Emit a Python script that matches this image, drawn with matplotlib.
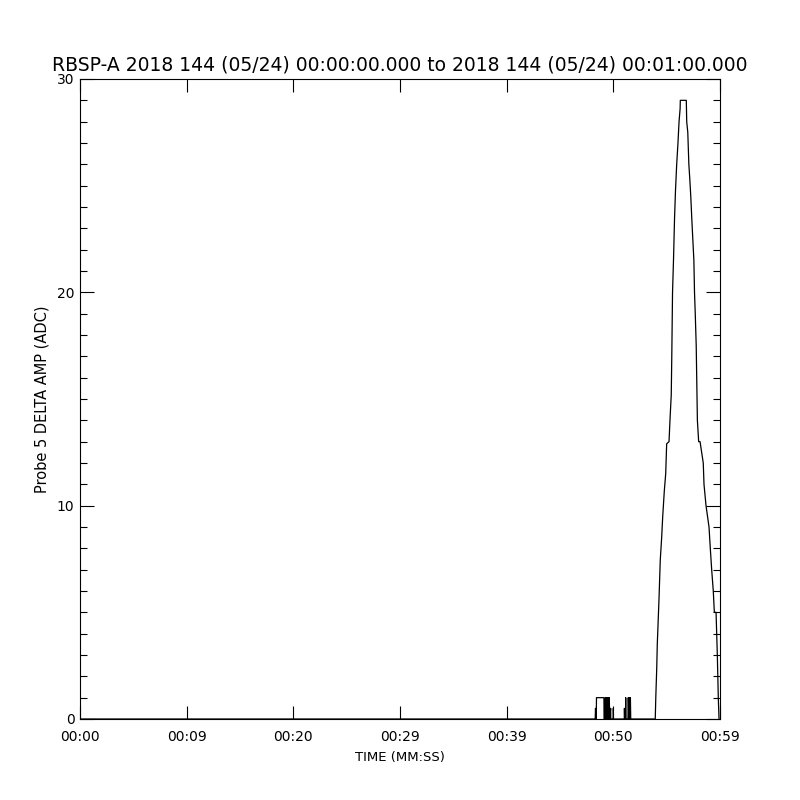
import numpy as np
import matplotlib
matplotlib.use('Agg')
import matplotlib.pyplot as plt
from matplotlib.ticker import MultipleLocator

# time in seconds after 00:00:00, value in ADC counts
burst_t = [0.0, 48.30, 48.33, 48.36, 48.40, 48.42, 49.12, 49.13, 49.22, 49.25, 49.28,
           49.36, 49.38, 49.40, 49.47, 49.49, 49.52, 49.55, 49.58, 49.62, 49.66,
           49.75, 49.76, 50.00, 50.00, 50.01, 51.03, 51.04, 51.06, 51.14, 51.16,
           51.18, 51.37, 51.40, 51.45, 51.50, 51.55, 51.60, 51.63]
burst_v = [0, 0, 0.5, 0, 0, 1, 1, 0, 0, 1, 0,
           0, 1, 0, 0, 1, 0, 1, 0, 1, 0,
           0.5, 0, 0, 0.5, 0, 0, 0.5, 0, 0, 1,
           0, 0, 1, 0, 1, 0, 1, 0]

spike_t = [53.93, 53.98, 54.07, 54.12, 54.28, 54.40, 54.53, 54.63, 54.78, 54.91,
           55.00, 55.22, 55.31, 55.43, 55.48, 55.55, 55.64, 55.74, 55.83, 55.94,
           56.06, 56.16, 56.26, 56.28, 56.84, 56.88, 56.98, 57.08, 57.17, 57.26,
           57.36, 57.45, 57.55, 57.61, 57.68, 57.77, 57.88, 58.00, 58.13, 58.43,
           58.50, 58.69, 58.97, 59.09, 59.22, 59.37, 59.47, 59.63, 59.69, 59.75,
           59.84, 59.91]
spike_v = [0, 1.0, 2.4, 3.5, 5.6, 7.45, 8.5, 9.5, 10.7, 11.5,
           12.9, 13.0, 14.0, 15.2, 17.0, 20.0, 21.5, 23.5, 24.8, 26.0,
           27.0, 28.0, 28.6, 29.0, 29.0, 28.0, 27.5, 26.0, 25.3, 24.5,
           23.4, 22.5, 21.5, 20.0, 19.0, 17.5, 14.0, 13.0, 13.0, 12.0,
           11.0, 10.0, 9.0, 8.0, 7.0, 6.0, 5.0, 5.0, 4.0, 3.0,
           1.0, 0]

tick_labels = ['00:00', '00:09', '00:20', '00:29', '00:39', '00:50', '00:59']

t = np.array(burst_t + spike_t)
v = np.array(burst_v + spike_v)

plt.rcParams['font.family'] = ['DejaVu Sans']
fig = plt.figure(figsize=(8, 8), dpi=100)
ax = fig.add_axes([0.1, 0.10125, 0.8, 0.8])

ax.plot(t, v, color='black', linewidth=0.9)
ax.set_xlim(0, 60)
ax.set_ylim(0, 30)

ax.set_xticks(np.linspace(0, 60, len(tick_labels)))
ax.set_xticklabels(tick_labels)
ax.yaxis.set_major_locator(MultipleLocator(10))
ax.yaxis.set_minor_locator(MultipleLocator(1))

ax.tick_params(axis='both', which='both', direction='in', top=True, right=True,
               labelsize=10, width=0.8)
ax.tick_params(axis='x', which='major', length=9.5, pad=8)
ax.tick_params(axis='y', which='major', length=10, pad=4)
ax.tick_params(axis='y', which='minor', length=5)
for s in ax.spines.values():
    s.set_linewidth(0.8)

ax.set_title('RBSP-A 2018 144 (05/24) 00:00:00.000 to 2018 144 (05/24) 00:01:00.000',
             fontsize=13.5, pad=6)
ax.set_xlabel('TIME (MM:SS)', fontsize=9.5, labelpad=5)
ax.set_ylabel('Probe 5 DELTA AMP (ADC)', fontsize=10.5, labelpad=5)

fig.savefig('out.png', dpi=100, facecolor='white')
